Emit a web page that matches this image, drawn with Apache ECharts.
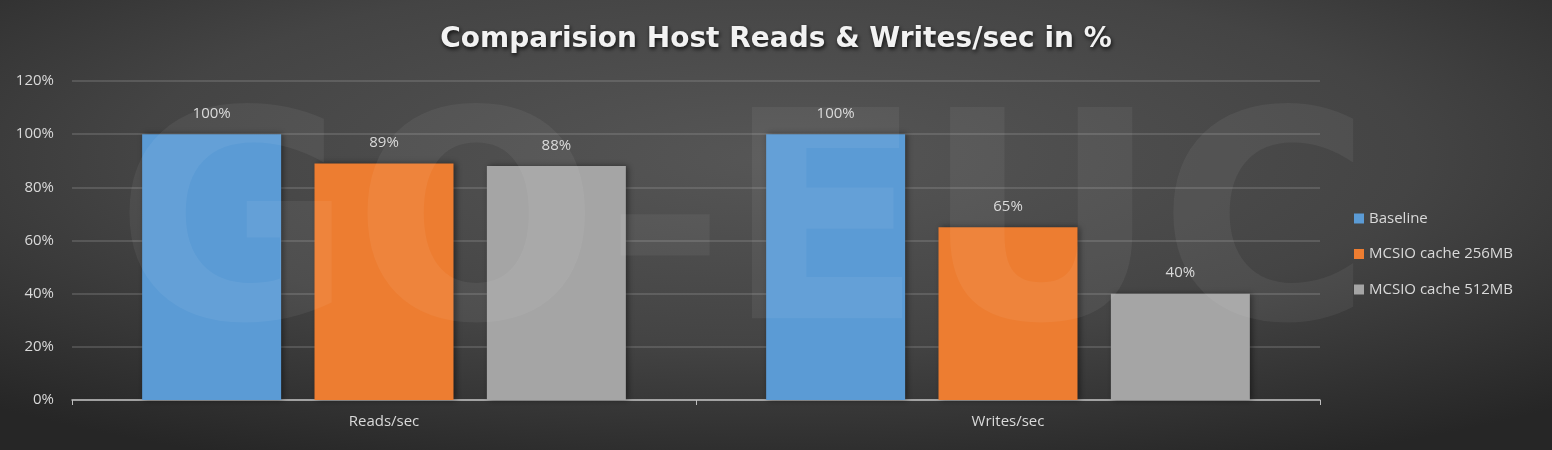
<!DOCTYPE html>
<html>
<head>
<meta charset="utf-8">
<script src="https://cdn.jsdelivr.net/npm/echarts@6/dist/echarts.min.js"></script>
<style>html,body{margin:0;padding:0;background:#2b2b2b}#c{width:1552px;height:450px}</style>
</head>
<body>
<div id="c"></div>
<script>
const titleText = 'Comparision Host Reads & Writes/sec in %';
const categories = ['Reads/sec', 'Writes/sec'];
const seriesNames = ['Baseline', 'MCSIO cache 256MB', 'MCSIO cache 512MB'];
const baseline = [100, 100];
const cache256 = [89, 65];
const cache512 = [88, 40];
const seriesColors = ['#5b9bd5', '#ed7d31', '#a5a5a5'];
const yTicks = [0, 20, 40, 60, 80, 100, 120];

const chart = echarts.init(document.getElementById('c'), null, {renderer: 'canvas'});
const values = [baseline, cache256, cache512];
const txt = '#d9d9d9';
const font = 'Open Sans';

const series = seriesNames.map((n, i) => ({
  name: n,
  type: 'bar',
  data: values[i],
  barWidth: 139,
  barGap: '24%',
  itemStyle: {color: seriesColors[i], shadowColor: 'rgba(0,0,0,0.45)', shadowBlur: 6, shadowOffsetX: 2},
  label: {show: true, position: 'top', distance: 13, formatter: '{c}%', color: txt, fontSize: 15, fontFamily: font}
}));

chart.setOption({
  backgroundColor: '#282828',
  graphic: [
    {type: 'rect', z: -10, silent: true, shape: {x: 0, y: 0, width: 450, height: 450}, scaleX: 1552 / 450,
     style: {fill: {type: 'radial', x: 0.5, y: 0.35, r: 0.75, colorStops: [
       {offset: 0, color: '#565656'}, {offset: 0.55, color: '#444444'}, {offset: 1, color: '#262626'}]}}},
    {type: 'text', z: 100, silent: true, left: 115, top: 98,
     style: {text: 'GO-EUC', fill: 'rgba(255,255,255,0.055)', font: 'bold 290px "DejaVu Sans"'}}
  ],
  title: {
    text: titleText, left: 'center', top: 21,
    textStyle: {color: '#f2f2f2', fontSize: 28, fontWeight: 'bold', fontFamily: 'DejaVu Sans',
      textShadowColor: 'rgba(0,0,0,0.8)', textShadowBlur: 4, textShadowOffsetX: 1, textShadowOffsetY: 2}
  },
  legend: {
    orient: 'vertical', left: 1349, top: 206, itemGap: 20.5, itemWidth: 10, itemHeight: 10,
    icon: 'rect', textStyle: {color: txt, fontSize: 15, fontFamily: font},
    data: seriesNames
  },
  grid: {left: 72, right: 232, top: 81, bottom: 50},
  xAxis: {
    type: 'category', data: categories,
    axisLine: {lineStyle: {color: '#bfbfbf', width: 1.5}},
    axisTick: {show: true, length: 5, lineStyle: {color: '#bfbfbf'}},
    axisLabel: {color: txt, fontSize: 15, fontFamily: font, margin: 14}
  },
  yAxis: {
    type: 'value', min: yTicks[0], max: yTicks[yTicks.length - 1], interval: 20,
    axisLine: {show: false}, axisTick: {show: false},
    axisLabel: {color: txt, fontSize: 15, fontFamily: font, formatter: '{value}%', margin: 18},
    splitLine: {lineStyle: {color: 'rgba(160,160,160,0.35)', width: 1.5}}
  },
  series: series
});
</script>
</body>
</html>
